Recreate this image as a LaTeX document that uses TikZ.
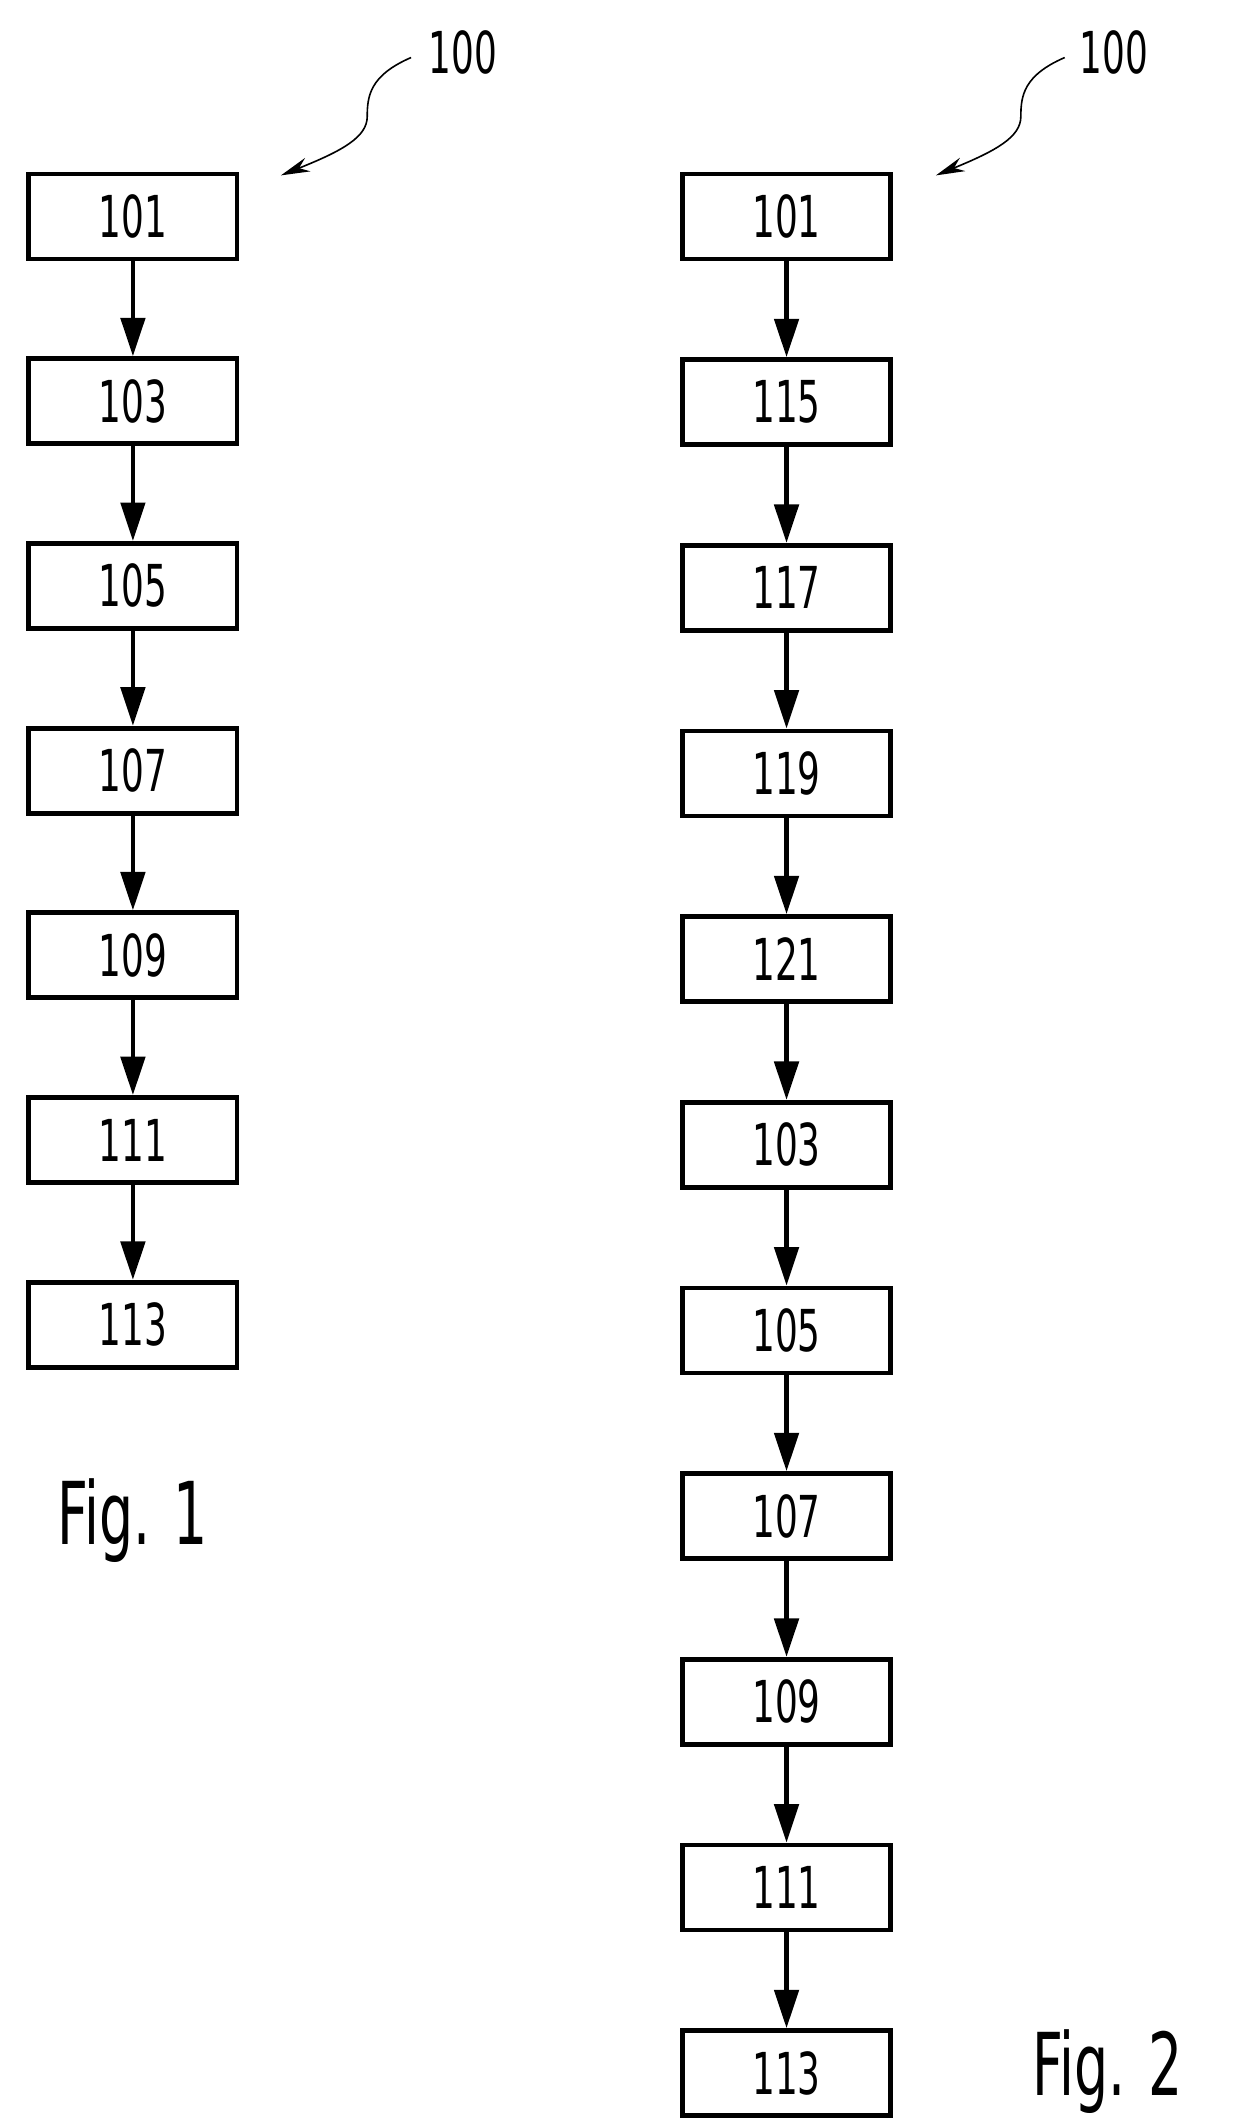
\documentclass[tikz,border=0pt]{standalone}
\usepackage{fontspec}
\setmainfont{DejaVu Sans}
\usetikzlibrary{arrows.meta}
\begin{document}
\begin{tikzpicture}[x=0.03cm,y=-0.03cm,
  box/.style={draw,line width=3pt,minimum width=152*0.03cm,minimum height=62*0.03cm,inner sep=0pt,font=\fontsize{36}{36}\selectfont},
  arr/.style={line width=3pt,-{Triangle[length=24pt,width=15pt]}},
  lead/.style={line width=1pt,-{Stealth[length=18pt,width=9pt]}}]
\useasboundingbox (0,0) rectangle (900,1553);
\newcommand{\nm}[1]{\scalebox{0.62}[1]{#1}}
\foreach \t [count=\i] in {101,103,105,107,109,111,113}{
  \node[box] (a\i) at (97,{158+134.8*(\i-1)}) {\nm{\t}};}
\foreach \i [evaluate=\i as \j using int(\i+1)] in {1,...,6}{\draw[arr] (a\i) -- (a\j);}
\foreach \t [count=\i] in {101,115,117,119,121,103,105,107,109,111,113}{
  \node[box] (b\i) at (574,{158+135.5*(\i-1)}) {\nm{\t}};}
\foreach \i [evaluate=\i as \j using int(\i+1)] in {1,...,10}{\draw[arr] (b\i) -- (b\j);}
\node[font=\fontsize{36}{36}\selectfont] (l1) at (338,38) {\nm{100}};
\node[font=\fontsize{36}{36}\selectfont] (l2) at (813,38) {\nm{100}};
\coordinate (t1) at (205,128); \coordinate (t2) at (683,128);
\draw[lead] (300,42) .. controls (270,55) and (268,70) .. (268,85) .. controls (268,100) and (250,110) .. (t1);
\draw[lead] (777,42) .. controls (747,55) and (745,70) .. (745,85) .. controls (745,100) and (727,110) .. (t2);
\node[font=\fontsize{54}{54}\selectfont] (f1) at (97,1110) {\nm{Fig. 1}};
\node[font=\fontsize{54}{54}\selectfont] (f2) at (808,1512) {\nm{Fig. 2}};
\end{tikzpicture}
\end{document}
